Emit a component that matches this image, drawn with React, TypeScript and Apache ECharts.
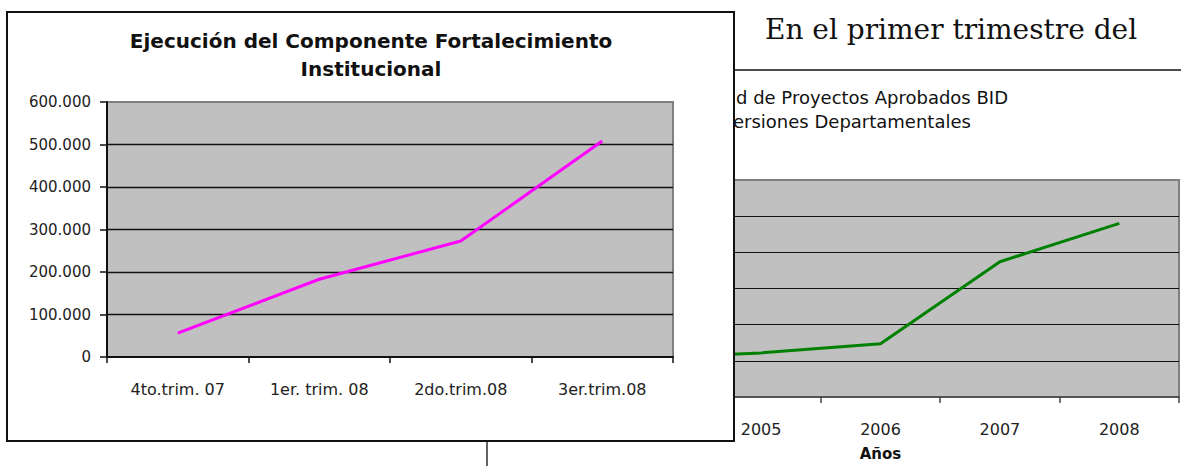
import React, { useEffect, useRef } from "react";
import * as echarts from "echarts";

const pageText = "En el primer trimestre del";

const leftTitle = ["Ejecución del Componente Fortalecimiento", "Institucional"];
const leftCategories = ["4to.trim. 07", "1er. trim. 08", "2do.trim.08", "3er.trim.08"];
const leftValues = [56000, 183000, 273000, 508000];
const leftMin = 0;
const leftMax = 600000;
const leftInterval = 100000;

const rightTitle = ["d de Proyectos Aprobados BID", "ersiones Departamentales"];
const rightCategories = ["2004", "2005", "2006", "2007", "2008"];
const rightVisibleLabels = ["2005", "2006", "2007", "2008"];
const rightValues = [10.8, 12.2, 14.7, 37.4, 48.0];
const rightAxisName = "Años";
const rightMin = 0;
const rightMax = 60;
const rightInterval = 10;

const fmtThousands = (v: number) =>
  String(Math.round(v)).replace(/\B(?=(\d{3})+(?!\d))/g, ".");

const SANS = "DejaVu Sans";

export default function App() {
  const ref = useRef<HTMLDivElement>(null);

  useEffect(() => {
    if (!ref.current) return;
    const chart = echarts.init(ref.current, undefined, { renderer: "svg" });
    const option: any = {
      animation: false,
      backgroundColor: "#ffffff",
      graphic: [
        {
          type: "text",
          z: 1,
          x: 765,
          y: 29,
          style: {
            text: pageText,
            fontFamily: "DejaVu Serif",
            fontSize: 28,
            fill: "#111111",
            textAlign: "left",
            textVerticalAlign: "middle",
          },
        },
        {
          type: "line",
          z: 1,
          shape: { x1: 487, y1: 70, x2: 1181, y2: 70 },
          style: { stroke: "#111111", lineWidth: 1.3 },
        },
        {
          type: "line",
          z: 1,
          shape: { x1: 487, y1: 70, x2: 487, y2: 466 },
          style: { stroke: "#111111", lineWidth: 1.3 },
        },
        {
          type: "text",
          z: 1,
          x: 736,
          y: 97,
          style: {
            text: rightTitle[0],
            fontFamily: SANS,
            fontSize: 18,
            fill: "#111111",
            textAlign: "left",
            textVerticalAlign: "middle",
          },
        },
        {
          type: "text",
          z: 1,
          x: 733,
          y: 121,
          style: {
            text: rightTitle[1],
            fontFamily: SANS,
            fontSize: 18,
            fill: "#111111",
            textAlign: "left",
            textVerticalAlign: "middle",
          },
        },
        {
          type: "rect",
          z: 10,
          shape: { x: 7, y: 12, width: 727, height: 429 },
          style: { fill: "#ffffff", stroke: "#111111", lineWidth: 2 },
        },
        {
          type: "text",
          z: 14,
          x: 371,
          y: 40.5,
          style: {
            text: leftTitle[0],
            fontFamily: SANS,
            fontSize: 20,
            fontWeight: "bold",
            fill: "#111111",
            textAlign: "center",
            textVerticalAlign: "middle",
          },
        },
        {
          type: "text",
          z: 14,
          x: 371,
          y: 68.5,
          style: {
            text: leftTitle[1],
            fontFamily: SANS,
            fontSize: 20,
            fontWeight: "bold",
            fill: "#111111",
            textAlign: "center",
            textVerticalAlign: "middle",
          },
        },
      ],
      grid: [
        {
          z: 11,
          left: 107,
          top: 102,
          right: 508,
          bottom: 109,
          show: true,
          backgroundColor: "#C0C0C0",
          borderColor: "#808080",
          borderWidth: 2,
        },
        {
          z: 0,
          left: 582,
          top: 180,
          right: 2,
          bottom: 69,
          show: true,
          backgroundColor: "#C0C0C0",
          borderColor: "#808080",
          borderWidth: 2,
        },
      ],
      xAxis: [
        {
          gridIndex: 0,
          z: 12,
          type: "category",
          data: leftCategories,
          boundaryGap: true,
          axisLine: { show: true, lineStyle: { color: "#111111", width: 2 } },
          axisTick: { show: true, length: 6, lineStyle: { color: "#111111", width: 1.5 } },
          axisLabel: {
            margin: 24,
            fontFamily: SANS,
            fontSize: 16,
            color: "#222222",
          },
          splitLine: { show: false },
        },
        {
          gridIndex: 1,
          z: 0,
          type: "category",
          data: rightCategories,
          boundaryGap: true,
          axisLine: { show: true, lineStyle: { color: "#444444", width: 1.5 } },
          axisTick: { show: true, length: 6, lineStyle: { color: "#444444", width: 1.5 } },
          axisLabel: {
            margin: 24,
            fontFamily: SANS,
            fontSize: 16,
            color: "#222222",
            formatter: (v: string) => (rightVisibleLabels.includes(v) ? v : ""),
          },
          name: rightAxisName,
          nameLocation: "middle",
          nameGap: 49,
          nameTextStyle: {
            fontFamily: SANS,
            fontSize: 15,
            fontWeight: "bold",
            color: "#111111",
          },
          splitLine: { show: false },
        },
      ],
      yAxis: [
        {
          gridIndex: 0,
          z: 12,
          type: "value",
          min: leftMin,
          max: leftMax,
          interval: leftInterval,
          axisLine: { show: true, lineStyle: { color: "#111111", width: 2 } },
          axisTick: { show: true, length: 7, lineStyle: { color: "#111111", width: 1.5 } },
          axisLabel: {
            margin: 16,
            fontFamily: SANS,
            fontSize: 15,
            color: "#222222",
            formatter: (v: number) => fmtThousands(v),
          },
          splitLine: {
            show: true,
            showMaxLine: false,
            showMinLine: false,
            lineStyle: { color: "#111111", width: 1.3 },
          },
        },
        {
          gridIndex: 1,
          z: 0,
          type: "value",
          min: rightMin,
          max: rightMax,
          interval: rightInterval,
          axisLine: { show: false },
          axisTick: { show: false },
          axisLabel: { show: false },
          splitLine: {
            show: true,
            showMaxLine: false,
            showMinLine: false,
            lineStyle: { color: "#111111", width: 1 },
          },
        },
      ],
      series: [
        {
          type: "line",
          z: 13,
          xAxisIndex: 0,
          yAxisIndex: 0,
          data: leftValues,
          symbol: "none",
          lineStyle: { color: "#FF00FF", width: 3 },
          itemStyle: { color: "#FF00FF" },
        },
        {
          type: "line",
          z: 2,
          xAxisIndex: 1,
          yAxisIndex: 1,
          data: rightValues,
          symbol: "none",
          lineStyle: { color: "#008000", width: 3 },
          itemStyle: { color: "#008000" },
        },
      ],
    };
    chart.setOption(option);
    return () => chart.dispose();
  }, []);

  return (
    <div
      style={{
        position: "fixed",
        left: 0,
        top: 0,
        width: 1181,
        height: 466,
        overflow: "hidden",
        background: "#ffffff",
      }}
    >
      <div ref={ref} style={{ width: 1181, height: 466 }} />
    </div>
  );
}
